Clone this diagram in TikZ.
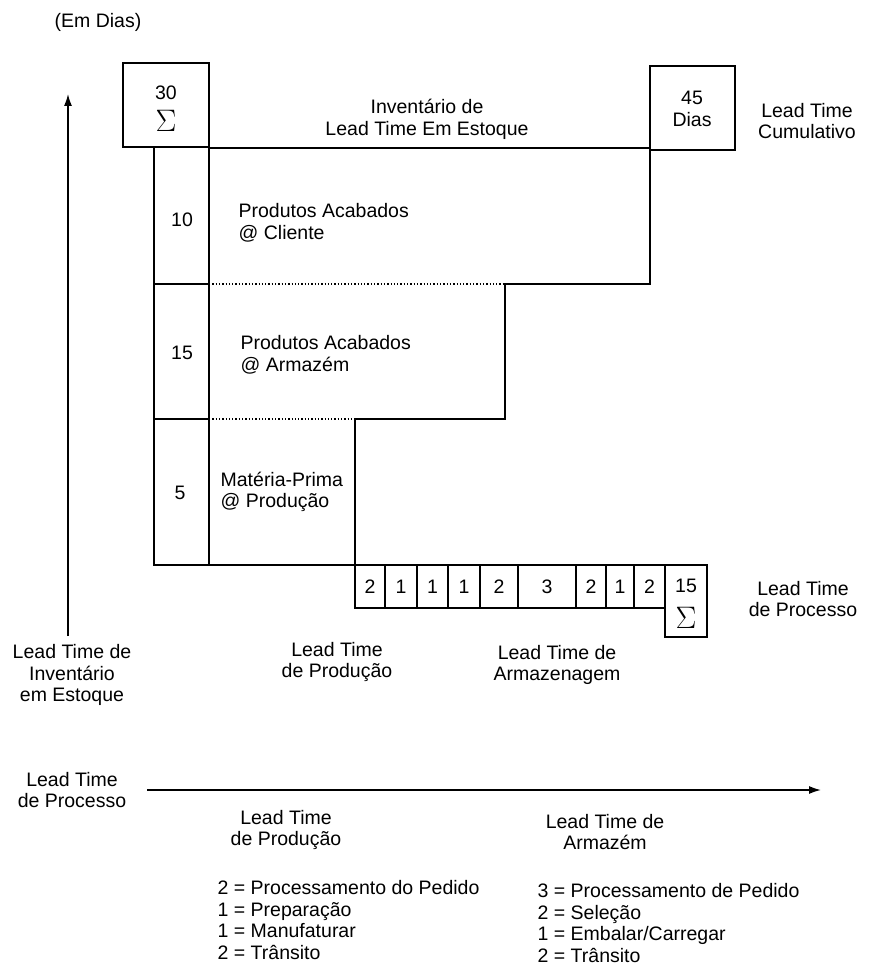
\documentclass[tikz,border=0pt]{standalone}
\usepackage{fontspec}
\setmainfont{Liberation Sans}
\usetikzlibrary{arrows.meta}
\newcommand{\bigsig}{\scalebox{1.25}{$\Sigma$}}
\begin{document}
\begin{tikzpicture}[x=1pt,y=-1pt,line width=1.3pt,every node/.style={font=\fontsize{19.5}{21.7}\selectfont,align=center,inner sep=0pt},
  lst/.style={align=left,anchor=west},
  sig/.style={font=\fontsize{24.88}{26}\selectfont},
  axis/.style={-{Latex[length=12pt,width=8pt]},line width=1.5pt}]
  \useasboundingbox (0,0) rectangle (888,965);
  \node (emdias) at (98,22) {(Em Dias)};
  \draw (123,63) rectangle (209,147);
  \draw (650,66) rectangle (735,150);
  \node (s30) at (166,93) {30};
  \node[sig] (sg30) at (166,121) {\bigsig};
  \node (d45) at (692,109) {45\\Dias};
  \node (cum) at (807,121) {Lead Time\\Cumulativo};
  \node (inv) at (427,119) {Inventário de\\Lead Time Em Estoque};
  \draw (209,148) -- (650,148);
  \draw (154,147) -- (154,565) -- (707,565) -- (707,637) -- (665,637) -- (665,565);
  \draw (209,147) -- (209,565);
  \draw (154,284) -- (209,284);
  \draw (154,419) -- (209,419);
  \draw (650,150) -- (650,284) -- (505,284) -- (505,419) -- (355,419) -- (355,608) -- (665,608);
  \draw[dotted] (209,284) -- (505,284);
  \draw[dotted] (209,419) -- (355,419);
  \node (n10) at (182,220) {10};
  \node[lst] (pac) at (238,223) {Produtos Acabados\\@ Cliente};
  \node (n15) at (182,353) {15};
  \node[lst] (paa) at (240,355) {Produtos Acabados\\@ Armazém};
  \node (n5) at (180,493) {5};
  \node[lst] (mpp) at (220,492) {Matéria-Prima\\@ Produção};
  \foreach \a/\b/\v in {355/385/2,385/417/1,417/448/1,448/480/1,480/518/2,518/576/3,576/606/2,606/634/1,634/665/2}{
    \draw (\b,565) -- (\b,608);
    \node (cell\a) at ({(\a+\b)/2},587) {\v};
  }
  \node (s15) at (686,586) {15};
  \node[sig] (sg15) at (686,618) {\bigsig};
  \node (ltproc) at (803,599) {Lead Time\\de Processo};
  \node (ltarmz) at (557,665) {Lead Time de\\Armazenagem};
  \node (ltprod) at (337,662) {Lead Time\\de Produção};
  \node (ltinv) at (72,675) {Lead Time de\\Inventário\\em Estoque};
  \coordinate (vbot) at (68,636);
  \coordinate (vtop) at (68,94);
  \draw[axis] (vbot) -- (vtop);
  \coordinate (hleft) at (147,790);
  \coordinate (hright) at (821,790);
  \draw[axis] (hleft) -- (hright);
  \node (ltproc2) at (72,790) {Lead Time\\de Processo};
  \node (ltprod2) at (286,830) {Lead Time\\de Produção};
  \node (ltarm) at (605,832) {Lead Time de\\Armazém};
  \node[lst] (lprod) at (217,920) {2 = Processamento do Pedido\\1 = Preparação\\1 = Manufaturar\\2 = Trânsito};
  \node[lst] (larm) at (537,923) {3 = Processamento de Pedido\\2 = Seleção\\1 = Embalar/Carregar\\2 = Trânsito};
\end{tikzpicture}
\end{document}
